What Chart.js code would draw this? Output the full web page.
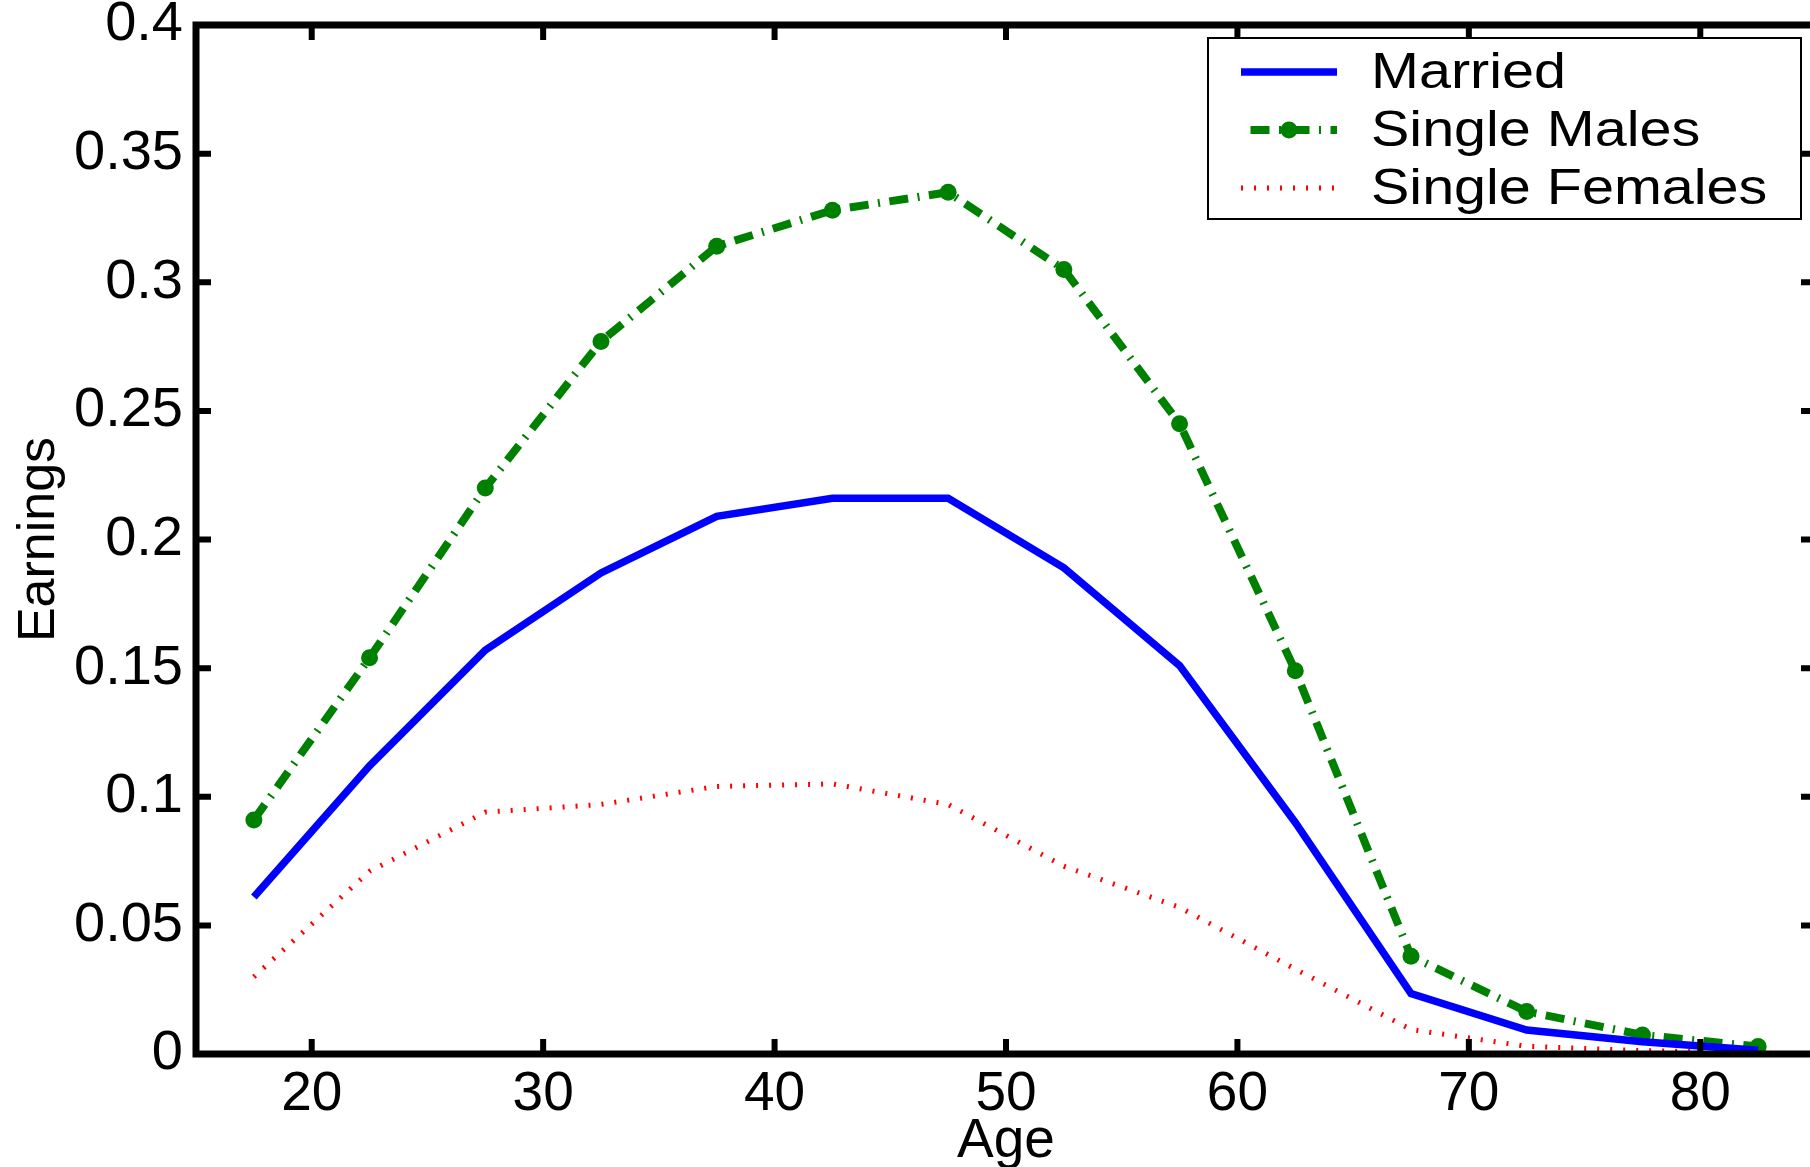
<!DOCTYPE html>
<html>
<head>
<meta charset="utf-8">
<title>Earnings by age</title>
<script src="https://cdn.jsdelivr.net/npm/chart.js@4.4.1/dist/chart.umd.min.js"></script>
<style>
  html, body { margin: 0; padding: 0; background: #fff; overflow: hidden; }
</style>
</head>
<body>
<canvas id="earningsChart" width="1830" height="1167"></canvas>
<script>
var ages = [17.5, 22.5, 27.5, 32.5, 37.5, 42.5, 47.5, 52.5, 57.5, 62.5, 67.5, 72.5, 77.5, 82.5]; // midpoints of age groups
var married = [0.061, 0.112, 0.157, 0.187, 0.209, 0.216, 0.216, 0.189, 0.151, 0.090, 0.0235, 0.0093, 0.0048, 0.0015];
var singleMales = [0.091, 0.154, 0.220, 0.277, 0.314, 0.328, 0.335, 0.305, 0.245, 0.149, 0.038, 0.0165, 0.0074, 0.0029];
var singleFemales = [0.030, 0.071, 0.094, 0.097, 0.104, 0.105, 0.097, 0.073, 0.057, 0.033, 0.0095, 0.003, 0.0013, 0.0004];
var xTicks = [20, 30, 40, 50, 60, 70, 80];
var yTicks = [0, 0.05, 0.1, 0.15, 0.2, 0.25, 0.3, 0.35, 0.4];
var yTickLabels = ["0", "0.05", "0.1", "0.15", "0.2", "0.25", "0.3", "0.35", "0.4"];

var FONT = "'Liberation Sans', Arial, Helvetica, sans-serif";

function toPoints(values) {
  return ages.map(function (a, i) {
    return { x: a, y: values[i] };
  });
}

// box round the plot with inward ticks on all four sides, plus the legend
var framePlugin = {
  id: "frame",
  afterDraw: function (chart) {
    var ctx = chart.ctx;
    var a = chart.chartArea;
    var sx = chart.scales.x;
    var sy = chart.scales.y;
    ctx.save();
    ctx.strokeStyle = "#000";
    ctx.lineWidth = 7;
    ctx.lineJoin = "miter";
    ctx.strokeRect(a.left, a.top, a.right - a.left, a.bottom - a.top);

    ctx.lineWidth = 6;
    ctx.lineCap = "butt";
    xTicks.forEach(function (v) {
      var px = sx.getPixelForValue(v);
      ctx.beginPath();
      ctx.moveTo(px, a.bottom);
      ctx.lineTo(px, a.bottom - 15);
      ctx.moveTo(px, a.top);
      ctx.lineTo(px, a.top + 15);
      ctx.stroke();
    });
    yTicks.forEach(function (v) {
      var py = sy.getPixelForValue(v);
      ctx.beginPath();
      ctx.moveTo(a.left, py);
      ctx.lineTo(a.left + 15, py);
      ctx.moveTo(a.right, py);
      ctx.lineTo(a.right - 15, py);
      ctx.stroke();
    });

    // legend
    var box = { x: 1208, y: 38, w: 593, h: 181 };
    ctx.fillStyle = "#fff";
    ctx.fillRect(box.x, box.y, box.w, box.h);
    ctx.lineWidth = 2;
    ctx.strokeStyle = "#000";
    ctx.strokeRect(box.x, box.y, box.w, box.h);

    var rows = [72, 130, 188];
    chart.data.datasets.forEach(function (ds, i) {
      var y = rows[i];
      ctx.save();
      ctx.strokeStyle = ds.borderColor;
      ctx.lineWidth = ds.borderWidth;
      ctx.setLineDash(ds.borderDash || []);
      ctx.lineDashOffset = ds.legendDashOffset || 0;
      ctx.beginPath();
      ctx.moveTo(1241, y);
      ctx.lineTo(1337, y);
      ctx.stroke();
      if (ds.pointRadius > 0) {
        ctx.setLineDash([]);
        ctx.fillStyle = ds.pointBackgroundColor;
        ctx.beginPath();
        ctx.arc(1289, y, ds.pointRadius, 0, Math.PI * 2);
        ctx.fill();
      }
      ctx.restore();

      ctx.save();
      ctx.fillStyle = "#000";
      ctx.font = "50px " + FONT;
      ctx.textBaseline = "middle";
      ctx.translate(1371, y + 2);
      ctx.scale(1.15, 1); // text in the reference is stretched sideways
      ctx.fillText(ds.label, 0, 0);
      ctx.restore();
    });
    ctx.restore();
  },
};

var ctx = document.getElementById("earningsChart").getContext("2d");
var earningsChart = new Chart(ctx, {
  type: "line",
  data: {
    datasets: [
      {
        label: "Married",
        data: toPoints(married),
        borderColor: "#0000ff",
        borderWidth: 7.5,
        pointRadius: 0,
        tension: 0,
        fill: false,
      },
      {
        label: "Single Males",
        data: toPoints(singleMales),
        borderColor: "#008000",
        borderWidth: 8,
        borderDash: [19, 9.5, 2, 9.5], // dash-dot
        legendDashOffset: 30.5,
        pointRadius: 8.5,
        pointBackgroundColor: "#008000",
        pointBorderWidth: 0,
        tension: 0,
        fill: false,
      },
      {
        label: "Single Females",
        data: toPoints(singleFemales),
        borderColor: "#ff0000",
        borderWidth: 5,
        borderDash: [2, 11], // dotted
        pointRadius: 0,
        tension: 0,
        fill: false,
      },
    ],
  },
  options: {
    responsive: false,
    animation: false,
    layout: { padding: { left: 0, top: 25, right: 14, bottom: 0 } },
    plugins: {
      legend: { display: false },
      tooltip: { enabled: false },
    },
    scales: {
      x: {
        type: "linear",
        min: 15,
        max: 85,
        afterBuildTicks: function (s) {
          s.ticks = xTicks.map(function (v) { return { value: v }; });
        },
        afterFit: function (s) {
          s.height = 113;
          s.paddingLeft = 0;
          s.paddingRight = 0;
          s.paddingTop = 0;
          s.paddingBottom = 0;
        },
        grid: { display: false, drawTicks: false },
        border: { display: false },
        ticks: {
          color: "#000",
          font: { family: FONT, size: 55 },
          padding: 8,
          maxRotation: 0,
          autoSkip: false,
          callback: function (v) { return String(v); },
        },
        title: {
          display: true,
          text: "Age",
          color: "#000",
          font: { family: FONT, size: 55, lineHeight: 0.92 },
          padding: { top: 0, bottom: 0 },
        },
      },
      y: {
        min: 0,
        max: 0.4,
        afterBuildTicks: function (s) {
          s.ticks = yTicks.map(function (v) { return { value: v }; });
        },
        afterFit: function (s) {
          s.width = 196;
          s.paddingLeft = 0;
          s.paddingRight = 0;
          s.paddingTop = 0;
          s.paddingBottom = 0;
        },
        grid: { display: false, drawTicks: false },
        border: { display: false },
        ticks: {
          color: "#000",
          font: { family: FONT, size: 56 },
          padding: 13,
          autoSkip: false,
          callback: function (v, i) { return yTickLabels[i]; },
        },
        title: {
          display: true,
          text: "Earnings",
          color: "#000",
          font: { family: FONT, size: 52, lineHeight: 1 },
          padding: { top: 14, bottom: 0 },
        },
      },
    },
  },
  plugins: [framePlugin],
});
</script>
</body>
</html>
